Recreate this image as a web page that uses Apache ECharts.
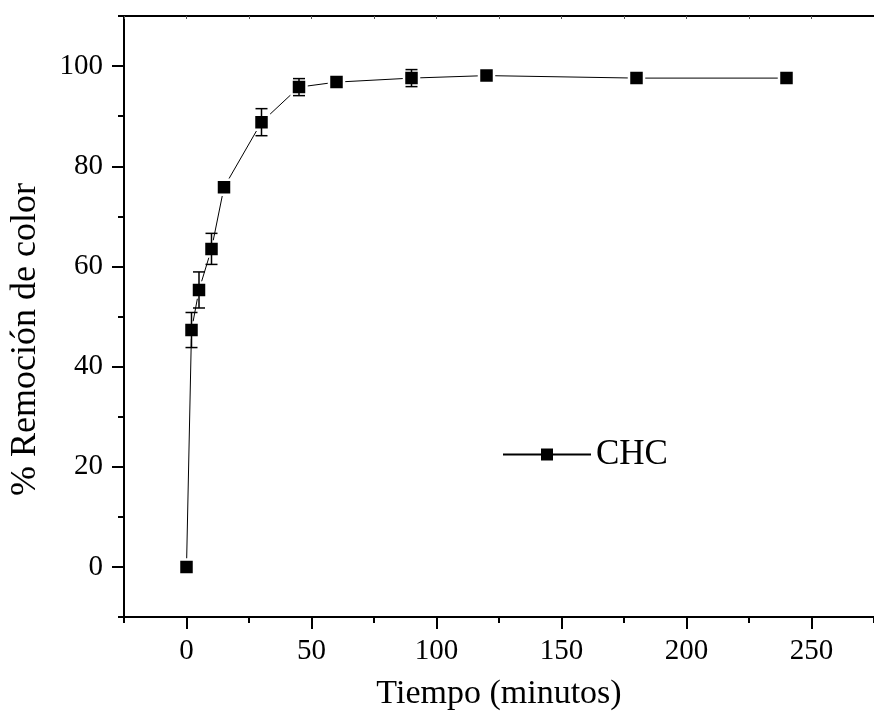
<!DOCTYPE html>
<html lang="es">
<head>
    <meta charset="UTF-8">
    <title>Remoción de color</title>
    <script src="https://cdn.jsdelivr.net/npm/echarts@6/dist/echarts.min.js"></script>
</head>
<body style="margin:0">
<div id="main" style="width: 874px;height:722px;"></div>

<script type="text/javascript">
    // datos
    var tiempo = [0, 2, 5, 10, 15, 30, 45, 60, 90, 120, 180, 240];
    var remocion = [0, 47.3, 55.3, 63.5, 75.8, 88.8, 95.8, 96.8, 97.6, 98.1, 97.6, 97.6];
    var errores = [0, 3.5, 3.6, 3.1, 0, 2.7, 1.7, 0, 1.7, 0, 0, 0];
    var xMarcas = [0, 50, 100, 150, 200, 250];
    var yMarcas = [0, 20, 40, 60, 80, 100];

    var fuente = 'Liberation Serif';
    var myChart = echarts.init(document.getElementById('main'));

    var puntos = [], barras = [];
    for (var i = 0; i < tiempo.length; i++) {
        puntos.push([tiempo[i], remocion[i]]);
        barras.push([tiempo[i], remocion[i], errores[i]]);
    }

    var ejeLinea = {show: true, onZero: false, lineStyle: {color: '#000', width: 2}};

    option = {
        animation: false,
        backgroundColor: '#fff',
        grid: {left: 123, right: -9, top: 16, bottom: 105},
        legend: {
            data: [{name: 'CHC', itemStyle: {borderWidth: 0}}],
            left: 502,
            top: 437,
            padding: 0,
            itemWidth: 88,
            itemHeight: 15,
            textStyle: {fontFamily: fuente, fontSize: 35, color: '#000'}
        },
        xAxis: [
            {   // marcas menores
                type: 'value', position: 'bottom', min: -25, max: 275, interval: 25,
                axisLine: ejeLinea,
                axisTick: {length: 6, lineStyle: {color: '#000', width: 2}},
                axisLabel: {show: false},
                splitLine: {show: false}
            },
            {   // marcas mayores
                type: 'value', position: 'bottom', min: -25, max: 275,
                axisLine: ejeLinea,
                axisTick: {length: 12, customValues: xMarcas, lineStyle: {color: '#000', width: 2}},
                axisLabel: {customValues: xMarcas, margin: 20, fontFamily: fuente, fontSize: 29, color: '#000'},
                splitLine: {show: false},
                name: 'Tiempo (minutos)',
                nameLocation: 'middle',
                nameGap: 60,
                nameTextStyle: {fontFamily: fuente, fontSize: 34, color: '#000'}
            },
            {   // marco superior
                type: 'value', position: 'top', min: -25, max: 275, interval: 25,
                axisLine: ejeLinea,
                axisTick: {inside: true, length: 3, lineStyle: {color: '#555', width: 1}},
                axisLabel: {show: false},
                splitLine: {show: false}
            }
        ],
        yAxis: [
            {
                type: 'value', position: 'left', min: -10, max: 110, interval: 10,
                axisLine: ejeLinea,
                axisTick: {length: 6, lineStyle: {color: '#000', width: 2}},
                axisLabel: {show: false},
                splitLine: {show: false}
            },
            {
                type: 'value', position: 'left', min: -10, max: 110,
                axisLine: ejeLinea,
                axisTick: {length: 12, customValues: yMarcas, lineStyle: {color: '#000', width: 2}},
                axisLabel: {customValues: yMarcas, margin: 21, fontFamily: fuente, fontSize: 29, color: '#000'},
                splitLine: {show: false},
                name: '% Remoción de color',
                nameLocation: 'middle',
                nameGap: 80,
                nameTextStyle: {fontFamily: fuente, fontSize: 36, color: '#000', padding: [0, 46, 0, 0]}
            }
        ],
        series: [
            {
                name: 'CHC',
                type: 'line',
                data: puntos,
                symbol: 'rect',
                symbolSize: 15,
                lineStyle: {color: '#000', width: 1},
                itemStyle: {color: '#000', borderColor: '#fff', borderWidth: 2.5},
                z: 3
            },
            {
                name: 'error',
                type: 'custom',
                data: barras,
                z: 4,
                renderItem: function (params, api) {
                    var x = api.value(0), y = api.value(1), e = api.value(2);
                    if (!e) return null;
                    var arriba = api.coord([x, y + e]);
                    var abajo = api.coord([x, y - e]);
                    var w = 6;
                    var estilo = {stroke: '#000', lineWidth: 1.5};
                    return {
                        type: 'group',
                        children: [
                            {type: 'line', shape: {x1: arriba[0], y1: arriba[1], x2: abajo[0], y2: abajo[1]}, style: estilo},
                            {type: 'line', shape: {x1: arriba[0] - w, y1: arriba[1], x2: arriba[0] + w, y2: arriba[1]}, style: estilo},
                            {type: 'line', shape: {x1: abajo[0] - w, y1: abajo[1], x2: abajo[0] + w, y2: abajo[1]}, style: estilo}
                        ]
                    };
                }
            }
        ]
    };

    myChart.setOption(option);
</script>
</body>
</html>
